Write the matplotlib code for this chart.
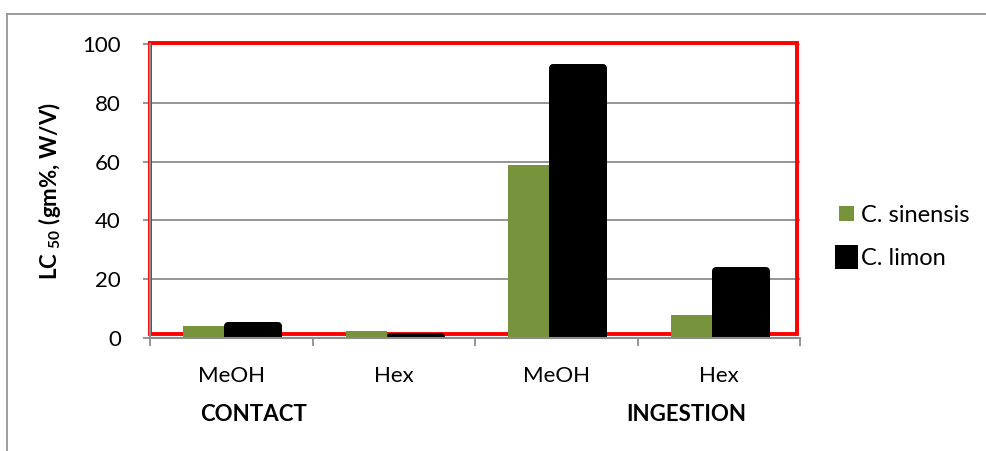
import numpy as np
import matplotlib.pyplot as plt
from matplotlib.lines import Line2D
from matplotlib.patches import Rectangle

plt.rcParams['font.family'] = ['Lato', 'DejaVu Sans']
plt.rcParams['mathtext.fontset'] = 'custom'
plt.rcParams['mathtext.rm'] = 'Lato:bold'
plt.rcParams['mathtext.default'] = 'rm'

categories = ['MeOH', 'Hex', 'MeOH', 'Hex']
groups = ['CONTACT', 'INGESTION']
sinensis = [4.1, 2.4, 58.8, 7.8]
limon = [5.4, 1.7, 93.2, 24.1]
yticks = [0, 20, 40, 60, 80, 100]

green = '#77933C'
grey = '#8C8C8C'

W, H = 986, 451
fig = plt.figure(figsize=(W / 100, H / 100), dpi=100)
ax = fig.add_axes([150 / W, 113 / H, 650 / W, 294 / H])

x = np.arange(len(categories))
ax.set_xlim(-0.5, len(categories) - 0.5)
ax.set_ylim(0, 100)

# px per data unit in y, used for the thick rounded outline of the black bars
px_y = 294 / 100
edge = 4  # px

ax.bar(x - 0.169, sinensis, width=0.252, color=green, linewidth=0, zorder=3,
       label='C. sinensis')
ax.bar(x + 0.135, np.array(limon) - edge / px_y, width=0.308, color='black',
       edgecolor='black', linewidth=2 * edge * 0.72, joinstyle='round',
       zorder=3, label='C. limon')

# red plot-area border
ax.add_patch(Rectangle((0, 0.012), 0.995, 0.99, transform=ax.transAxes,
                       fill=False, edgecolor='red', linewidth=2.8, zorder=2,
                       clip_on=False))
for s in ax.spines.values():
    s.set_visible(False)
ax.axhline(0, color=grey, linewidth=1.5, zorder=4, clip_on=False)
ax.axvline(-0.5, color=grey, linewidth=1.5, zorder=4, clip_on=False)

ax.set_yticks(yticks)
ax.yaxis.grid(True, color=grey, linewidth=1.3, zorder=0)
ax.set_axisbelow(True)
ax.tick_params(axis='y', length=5, width=1.3, color=grey, pad=16, labelsize=16)

ax.set_xticks(x)
ax.set_xticklabels(categories)
ax.set_xticks(np.arange(-0.5, len(categories)), minor=True)
ax.tick_params(axis='x', which='major', length=0, pad=20, labelsize=16)
ax.tick_params(axis='x', which='minor', length=6, width=1.3, color=grey)

ax.text(0.16, -0.26, groups[0], transform=ax.transAxes, ha='center', va='center',
        fontsize=16, fontweight='bold')
ax.text(0.825, -0.26, groups[1], transform=ax.transAxes, ha='center', va='center',
        fontsize=16, fontweight='bold')

ax.set_ylabel('LC $_{50}$ (gm%, W/V)', fontsize=16, fontweight='bold', labelpad=14)

ax.legend(loc='center left', bbox_to_anchor=(839 / W, 1 - 237 / H),
          bbox_transform=fig.transFigure, frameon=False, fontsize=17,
          handlelength=0.62, handleheight=0.62, handletextpad=0.3,
          labelspacing=0.95, borderpad=0, borderaxespad=0)

# outer chart frame
fig.add_artist(Line2D([7 / W, 7 / W], [0, 1 - 14 / H], color=grey, linewidth=1.2))
fig.add_artist(Line2D([7 / W, 1], [1 - 14 / H, 1 - 14 / H], color=grey, linewidth=1.2))

fig.savefig('out.png', dpi=100)
